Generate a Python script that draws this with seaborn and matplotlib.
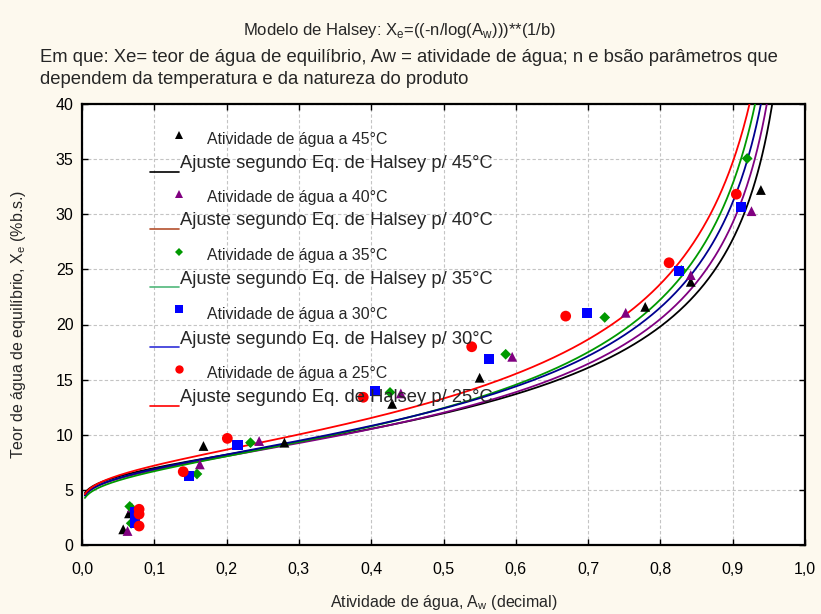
import numpy as np
import pandas as pd
import matplotlib
matplotlib.use("Agg")
import matplotlib.pyplot as plt
import seaborn as sns
from matplotlib.lines import Line2D

# ---------------- data ----------------
temps = ["45", "40", "35", "30", "25"]

aw_45 = [0.057, 0.065, 0.168, 0.280, 0.429, 0.550, 0.779, 0.842, 0.939]
xe_45 = [1.42, 2.87, 8.98, 9.28, 12.8, 15.17, 21.6, 23.87, 32.2]
aw_40 = [0.063, 0.069, 0.163, 0.245, 0.441, 0.595, 0.752, 0.842, 0.926]
xe_40 = [1.27, 3.4, 7.31, 9.43, 13.75, 17.07, 21.06, 24.48, 30.28]
aw_35 = [0.066, 0.068, 0.159, 0.233, 0.426, 0.586, 0.723, 0.829, 0.920]
xe_35 = [3.5, 1.97, 6.44, 9.28, 13.84, 17.3, 20.64, 24.9, 35.06]
aw_30 = [0.073, 0.073, 0.073, 0.148, 0.215, 0.405, 0.563, 0.698, 0.826, 0.911]
xe_30 = [3.0, 2.5, 2.0, 6.28, 9.07, 13.96, 16.9, 21.06, 24.87, 30.67]
aw_25 = [0.079, 0.079, 0.079, 0.140, 0.201, 0.389, 0.539, 0.669, 0.812, 0.905]
xe_25 = [3.24, 2.8, 1.72, 6.65, 9.67, 13.4, 17.98, 20.76, 25.6, 31.82]

# Halsey parameters per temperature (fitted curves)
n_par = [177.9, 133.2, 92.4, 119.7, 110.6]
b_par = [2.237, 2.116, 1.942, 2.047, 1.961]

x_ticks = [0.0, 0.1, 0.2, 0.3, 0.4, 0.5, 0.6, 0.7, 0.8, 0.9, 1.0]
x_ticklabels = ["0,0", "0,1", "0,2", "0,3", "0,4", "0,5", "0,6", "0,7", "0,8", "0,9", "1,0"]
y_ticks = [0, 5, 10, 15, 20, 25, 30, 35, 40]

# ---------------- styling ----------------
marker_colors = {"45": "#000000", "40": "#800080", "35": "#009900", "30": "#0000ff", "25": "#ff0000"}
curve_colors = {"45": "#000000", "40": "#800080", "35": "#009900", "30": "#000090", "25": "#ff0000"}
legend_line_colors = {"45": "#000000", "40": "#b4502d", "35": "#50b87a", "30": "#3030d8", "25": "#ff0000"}
markers = {"45": "^", "40": "^", "35": "D", "30": "s", "25": "o"}
msizes = {"45": 50, "40": 50, "35": 30, "30": 55, "25": 60}

sns.set_style("ticks")
plt.rcParams["font.family"] = ["Liberation Sans", "DejaVu Sans"]

W, H = 821, 614
fig = plt.figure(figsize=(W / 100, H / 100), dpi=100, facecolor="#fdf9ee")
ax = fig.add_axes([82 / W, 1 - 545 / H, (805 - 82) / W, (545 - 104) / H])
ax.set_facecolor("white")

pts = {"45": (aw_45, xe_45), "40": (aw_40, xe_40), "35": (aw_35, xe_35),
       "30": (aw_30, xe_30), "25": (aw_25, xe_25)}

# curves
aw_grid = np.linspace(0.004, 0.985, 600)
rows = []
for t, n, b in zip(temps, n_par, b_par):
    xe = (n / (-np.log(aw_grid))) ** (1.0 / b)
    rows.append(pd.DataFrame({"aw": aw_grid, "xe": xe, "T": t}))
curves = pd.concat(rows, ignore_index=True)
for t in temps:
    sns.lineplot(data=curves[curves["T"] == t], x="aw", y="xe", color=curve_colors[t],
                 lw=1.3, ax=ax, legend=False, zorder=3)

# points
for t in temps:
    df = pd.DataFrame({"aw": pts[t][0], "xe": pts[t][1]})
    sns.scatterplot(data=df, x="aw", y="xe", marker=markers[t], color=marker_colors[t],
                    s=msizes[t], edgecolor="none", ax=ax, legend=False, zorder=4)

ax.set_xlim(0, 1.0)
ax.set_ylim(0, 40)
ax.set_xticks(x_ticks)
ax.set_xticklabels(x_ticklabels)
ax.set_yticks(y_ticks)
ax.tick_params(direction="in", top=True, right=True, length=4, width=1,
               labelsize=11.5, colors="black")
ax.tick_params(axis="x", pad=12)
ax.tick_params(axis="y", pad=6)
ax.grid(True, ls=(0, (3, 2)), color="#c4c4c4", lw=0.8)
for s in ax.spines.values():
    s.set_linewidth(1.6)
    s.set_color("black")

ax.set_xlabel("Atividade de água, A$_\\mathregular{w}$ (decimal)", fontsize=11.5, labelpad=12)
ax.set_ylabel("Teor de água de equilíbrio, X$_\\mathregular{e}$ (%b.s.)", fontsize=11.5, labelpad=20)

# titles
narrow = ["Liberation Sans Narrow", "Liberation Sans", "DejaVu Sans"]
fig.text(400 / W, 1 - 30 / H, "Modelo de Halsey: X$_\\mathregular{e}$=((-n/log(A$_\\mathregular{w}$)))**(1/b)",
         ha="center", va="center", fontsize=12, family=narrow)
fig.text(40 / W, 1 - 57 / H,
         "Em que: Xe= teor de água de equilíbrio, Aw = atividade de água; n e bsão parâmetros que",
         ha="left", va="center", fontsize=13.3, family=narrow)
fig.text(40 / W, 1 - 79 / H, "dependem da temperatura e da natureza do produto",
         ha="left", va="center", fontsize=13.3, family=narrow)

# manual legend
mark_y = [135, 194.3, 251.7, 309.3, 369]
atv_y = [139.3, 197.7, 255.7, 314, 373.3]
line_y = [171.7, 229, 286.7, 347.3, 406]
aj_y = [163.3, 220.7, 280, 339, 397.3]
for i, t in enumerate(temps):
    fig.add_artist(Line2D([179 / W], [1 - mark_y[i] / H], marker=markers[t], ls="none",
                          color=marker_colors[t], markersize=6 if markers[t] != "D" else 4.5,
                          markeredgewidth=0))
    fig.text(207 / W, 1 - atv_y[i] / H, f"Atividade de água a {t}°C", ha="left", va="center",
             fontsize=11.4)
    fig.add_artist(Line2D([150 / W, 179 / W], [1 - line_y[i] / H] * 2,
                          color=legend_line_colors[t], lw=1.2))
    fig.text(180 / W, 1 - aj_y[i] / H, f"Ajuste segundo Eq. de Halsey p/ {t}°C", ha="left",
             va="center", fontsize=13.2)

fig.savefig("out.png", dpi=100, facecolor=fig.get_facecolor())
